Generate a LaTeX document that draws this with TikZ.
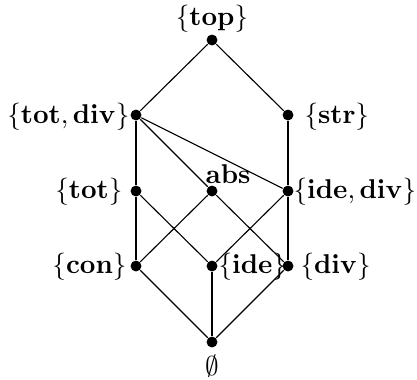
\documentclass[tikz,border=0pt]{standalone}
\newcommand{\lbsc}[1]{\scalebox{0.97}{#1}}
\begin{document}
\begin{tikzpicture}[x=0.3571pt,y=-0.3571pt,
  dot/.style={circle,fill=black,inner sep=0pt,minimum size=3.9pt},
  lab/.style={inner sep=0pt},
  thin/.style={line width=0.4pt},
  bold/.style={line width=0.85pt}]
\useasboundingbox (0,0) rectangle (417,379);
\node[dot] (top) at (212,40) {};
\node[dot] (totdiv) at (136,115) {};
\node[dot] (str) at (288,115) {};
\node[dot] (tot) at (136,191) {};
\node[dot] (abs) at (212,191) {};
\node[dot] (idediv) at (288,191) {};
\node[dot] (con) at (136,266) {};
\node[dot] (ide) at (212,266) {};
\node[dot] (div) at (288,266) {};
\node[dot] (bot) at (212,342) {};
% labels
\node[lab,anchor=base] (ltop) at (212,25) {\lbsc{$\{\mathbf{top}\}$}};
\node[lab,anchor=base east] (ltotdiv) at (130,123) {\lbsc{$\{\mathbf{tot},\mathbf{div}\}$}};
\node[lab,anchor=base west] (lstr) at (304,123) {\lbsc{$\{\mathbf{str}\}$}};
\node[lab,anchor=base east] (ltot) at (123,198) {\lbsc{$\{\mathbf{tot}\}$}};
\node[lab,anchor=base west] (labs) at (205,183) {\lbsc{$\mathbf{abs}$}};
\node[lab,anchor=base west] (lidediv) at (293,198) {\lbsc{$\{\mathbf{ide},\mathbf{div}\}$}};
\node[lab,anchor=base east] (lcon) at (127,273) {\lbsc{$\{\mathbf{con}\}$}};
\node[lab,anchor=base west] (lide) at (218,273) {\lbsc{$\{\mathbf{ide}\}$}};
\node[lab,anchor=base west] (ldiv) at (300,273) {\lbsc{$\{\mathbf{div}\}$}};
\node[lab,anchor=base] (lbot) at (212,375) {\lbsc{$\emptyset$}};
% edges
\draw[thin] (top) -- (totdiv);
\draw[thin] (top) -- (str);
\draw[bold] (totdiv) -- (tot);
\draw[thin] (totdiv) -- (abs);
\draw[thin] (totdiv) -- (idediv);
\draw[bold] (str) -- (idediv);
\draw[bold] (tot) -- (con);
\draw[thin] (tot) -- (ide);
\draw[thin] (abs) -- (con);
\draw[thin] (abs) -- (div);
\draw[thin] (idediv) -- (ide);
\draw[bold] (idediv) -- (div);
\draw[thin] (con) -- (bot);
\draw[bold] (ide) -- (bot);
\draw[thin] (div) -- (bot);
\end{tikzpicture}
\end{document}
